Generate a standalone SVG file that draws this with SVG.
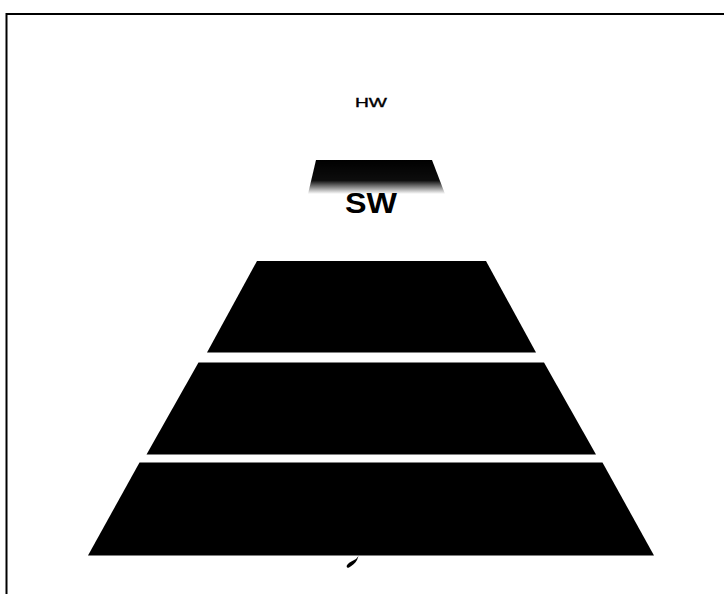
<svg xmlns="http://www.w3.org/2000/svg" width="724" height="594" viewBox="0 0 724 594">
  <defs>
    <style>
      .tier { fill: #000; }
      .frame { stroke: #000; stroke-width: 2; fill: none; }
      .lbl { font-family: "Liberation Sans", Arial, sans-serif; fill: #000; text-anchor: middle; }
    </style>
    <linearGradient id="fade" x1="0" y1="0" x2="0" y2="1">
      <stop offset="0" stop-color="#000" stop-opacity="1"/>
      <stop offset="0.6" stop-color="#000" stop-opacity="0.95"/>
      <stop offset="1" stop-color="#000" stop-opacity="0"/>
    </linearGradient>
  </defs>
  <rect width="724" height="594" fill="#fff"/>
  <g id="frame">
    <path class="frame" d="M6.5 594 V14 H724"/>
  </g>
  <g id="hw">
    <text class="lbl" x="371" y="106.7" font-size="12.5" stroke="#000" stroke-width="0.35" textLength="32" lengthAdjust="spacingAndGlyphs">HW</text>
  </g>
  <g id="sw">
    <polygon points="316,160 432,160 445,194 308,194" fill="url(#fade)"/>
    <text class="lbl" x="371" y="213.3" font-size="30" font-weight="bold" textLength="52" lengthAdjust="spacingAndGlyphs">SW</text>
  </g>
  <g id="tier1">
    <polygon class="tier" points="257,261 486,261 536,352.5 207,352.5"/>
  </g>
  <g id="tier2">
    <polygon class="tier" points="198.5,362.5 544,362.5 596,454.5 146.5,454.5"/>
  </g>
  <g id="tier3">
    <polygon class="tier" points="139.5,462.5 602.5,462.5 654,555.5 88,555.5"/>
  </g>
  <g id="mark">
    <path d="M358.5 556 L357 560 C355.5 563 352 566 349 567.5 C346.5 568.5 346 566 347.5 564.5 C349.5 562 353 560.5 356 559 Z" fill="#000"/>
  </g>
</svg>
